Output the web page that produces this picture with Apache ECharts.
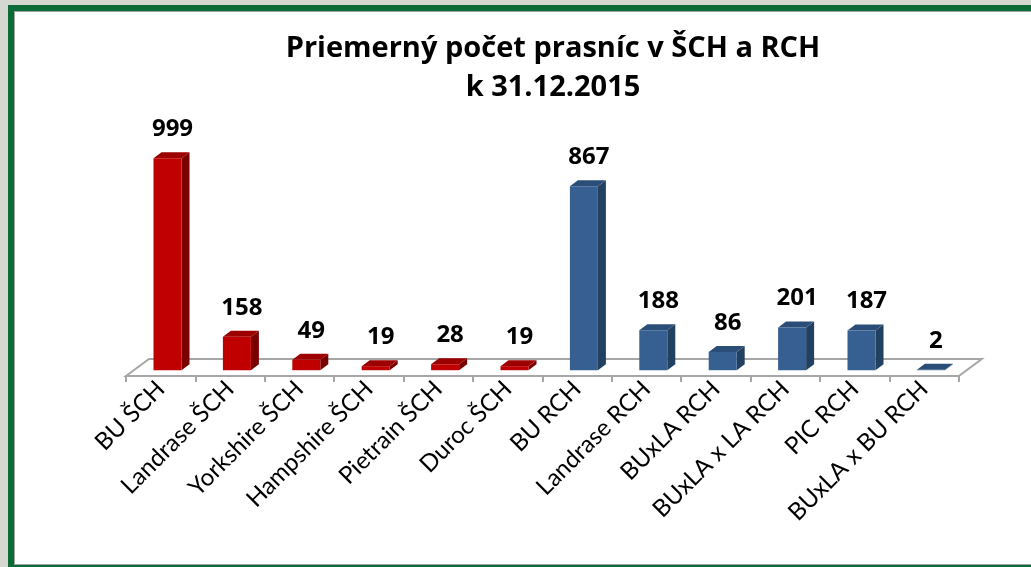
<!DOCTYPE html>
<html><head><meta charset="utf-8">
<script src="https://cdn.jsdelivr.net/npm/echarts@6/dist/echarts.min.js"></script>
<style>
html,body{margin:0;padding:0;width:1031px;height:567px;overflow:hidden;background:#d5d8d1;}
#frame{position:absolute;left:8px;top:5px;width:1040px;height:554px;border:6px solid #0c6b36;background:#fff;box-shadow:inset 0 0 0 1px #9aa39c;}
#chart{position:absolute;left:0;top:0;width:1031px;height:567px;}
</style></head><body>
<div id="frame"></div><div id="chart"></div>
<script>
const categories = ['BU ŠCH','Landrase ŠCH','Yorkshire ŠCH','Hampshire ŠCH','Pietrain ŠCH','Duroc ŠCH','BU RCH','Landrase RCH','BUxLA RCH','BUxLA x LA RCH','PIC RCH','BUxLA x BU RCH'];
const values = [999,158,49,19,28,19,867,188,86,201,187,2];
const groups = ['ŠCH','ŠCH','ŠCH','ŠCH','ŠCH','ŠCH','RCH','RCH','RCH','RCH','RCH','RCH'];
const titleLines = ['Priemerný počet prasníc v ŠCH a RCH','k 31.12.2015'];

const palette = {
  'ŠCH': {front:'#c00000', side:'#7a0000', top:'#9c0000'},
  'RCH': {front:'#366092', side:'#22405f', top:'#2b4e78'}
};
const FONT = '"Open Sans", Lato, sans-serif';
const LFONT = 'Lato, "Open Sans", sans-serif';
const DX = 8, DY = 6, BARW = 28;
const FLOOR_DX = 23, FLOOR_DY = 17;

const chart = echarts.init(document.getElementById('chart'), null, {renderer:'canvas'});
chart.setOption({
  animation:false,
  backgroundColor:'transparent',
  title:{
    text: titleLines.join('\n'),
    left: 548, top: 24, textAlign:'center',
    textStyle:{fontFamily:FONT, fontWeight:'bold', fontSize:29, color:'#000', lineHeight:39}
  },
  grid:[
    {left:132.8, width:832.8, top:158, height:212.2},
    {left:126, width:832.8, top:276, height:100}
  ],
  xAxis:[
    {type:'category', gridIndex:0, data:categories, show:false},
    {type:'category', gridIndex:1, data:categories,
      axisLine:{show:true, lineStyle:{color:'#a6a6a6', width:2}},
      axisTick:{show:true, interval:0, length:6, lineStyle:{color:'#a6a6a6', width:2}},
      axisLabel:{interval:0, rotate:45, margin:9, fontFamily:LFONT, fontSize:24, color:'#000'}
    }
  ],
  yAxis:[
    {type:'value', gridIndex:0, min:0, max:1000, show:false},
    {type:'value', gridIndex:1, min:0, max:1, show:false}
  ],
  series:[
    {
      type:'custom', xAxisIndex:1, yAxisIndex:1, data:[[0,0]], z:1,
      renderItem:function(params, api){
        const a = api.coord([0,0]);
        const band = api.size([1,0])[0];
        const xl = a[0]-band/2, xr = xl + band*categories.length, y = a[1];
        return {type:'polygon', shape:{points:[[xl,y],[xl+FLOOR_DX,y-FLOOR_DY],[xr+FLOOR_DX,y-FLOOR_DY],[xr,y]]},
          style:{fill:'#fff', stroke:'#a6a6a6', lineWidth:2}};
      }
    },
    {
      type:'custom', xAxisIndex:0, yAxisIndex:0, z:3,
      data: values.map((v,i)=>[i,v]),
      renderItem:function(params, api){
        const i = api.value(0), v = api.value(1);
        const p = api.coord([i,v]), p0 = api.coord([i,0]);
        const c = palette[groups[i]];
        const x = p[0]-BARW/2, yt = p[1], yb = p0[1];
        return {type:'group', children:[
          {type:'polygon', shape:{points:[[x+BARW,yt],[x+BARW+DX,yt-DY],[x+BARW+DX,yb-DY],[x+BARW,yb]]}, style:{fill:c.side}},
          {type:'polygon', shape:{points:[[x,yt],[x+DX,yt-DY],[x+BARW+DX,yt-DY],[x+BARW,yt]]}, style:{fill:c.top}},
          {type:'rect', shape:{x:x, y:yt, width:BARW, height:yb-yt}, style:{fill:c.front}},
          {type:'text', style:{text:String(v), x:p[0]+5, y:yt-29, align:'center', verticalAlign:'middle',
            font:'bold 24px '+FONT, fill:'#000'}}
        ]};
      }
    }
  ]
});
</script>
</body></html>
